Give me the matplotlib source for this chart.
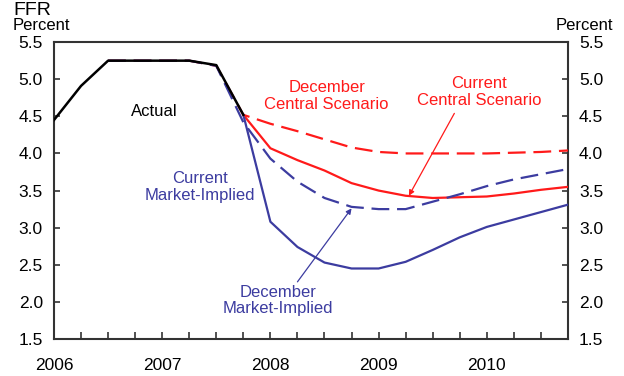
import numpy as np
import matplotlib.pyplot as plt
from matplotlib.ticker import MultipleLocator

plt.rcParams['font.family'] = ['Liberation Sans', 'DejaVu Sans']

# quarterly positions (decimal years)
q_actual = [2006.0, 2006.25, 2006.5, 2006.75, 2007.0, 2007.25, 2007.5, 2007.75]
actual = [4.45, 4.91, 5.25, 5.25, 5.25, 5.25, 5.19, 4.52]

q_current = [2007.75, 2008.0, 2008.25, 2008.5, 2008.75, 2009.0, 2009.25,
             2009.5, 2009.75, 2010.0, 2010.25, 2010.5, 2010.75]
current_central = [4.52, 4.07, 3.91, 3.77, 3.60, 3.50, 3.43, 3.40, 3.41, 3.42, 3.46, 3.51, 3.55]
current_market = [4.52, 3.08, 2.74, 2.53, 2.45, 2.45, 2.54, 2.70, 2.87, 3.01, 3.11, 3.21, 3.31]

q_dec = [2006.5, 2006.75, 2007.0, 2007.25, 2007.5, 2007.75, 2008.0, 2008.25, 2008.5,
         2008.75, 2009.0, 2009.25, 2009.5, 2009.75, 2010.0, 2010.25, 2010.5, 2010.75]
dec_central = [5.25, 5.25, 5.25, 5.25, 5.18, 4.52, 4.40, 4.30, 4.19, 4.08, 4.02,
               4.00, 4.00, 4.00, 4.00, 4.01, 4.02, 4.04]
dec_market = [5.25, 5.25, 5.25, 5.25, 5.18, 4.42, 3.93, 3.62, 3.40, 3.28, 3.25,
              3.25, 3.35, 3.45, 3.56, 3.65, 3.72, 3.79]

years = [2006, 2007, 2008, 2009, 2010]
red = '#ff1a1a'
blue = '#3c3ca0'

fig = plt.figure(figsize=(6.24, 3.76), dpi=100)
ax = fig.add_axes([0.0865, 0.0984, 0.8237, 0.7896])

ax.plot(q_current, current_central, color=red, lw=1.6, zorder=3)
ax.plot(q_current, current_market, color=blue, lw=1.6, zorder=3)
ax.plot(q_dec, dec_central, color=red, lw=1.6, dashes=(8, 3.5), zorder=4)
ax.plot(q_dec, dec_market, color=blue, lw=1.6, dashes=(8, 3.5), zorder=4)
ax.plot(q_actual, actual, color='black', lw=1.8, zorder=5)

ax.set_xlim(2006.0, 2010.75)
ax.set_ylim(1.5, 5.5)
ax.set_xticks(years)
ax.set_xticklabels([str(y) for y in years])
ax.xaxis.set_minor_locator(MultipleLocator(0.25))
ax.yaxis.set_major_locator(MultipleLocator(0.5))
ax.yaxis.set_major_formatter(plt.FormatStrFormatter('%.1f'))
ax.tick_params(axis='y', which='both', direction='in', length=4.5, width=1.2,
               left=True, right=True, labelleft=True, labelright=True,
               labelsize=12.5, pad=8, colors='#333333', labelcolor='black')
ax.tick_params(axis='x', which='both', direction='in', length=5, width=1.2,
               top=False, labelsize=12.5, pad=14, colors='#333333', labelcolor='black')
for s in ax.spines.values():
    s.set_linewidth(1.5)
    s.set_color('#333333')

fs = 12
ax.text(2006.93, 4.57, 'Actual', ha='center', va='center', fontsize=fs, color='black')
ax.text(2008.52, 4.77, 'December\nCentral Scenario', ha='center', va='center',
        fontsize=fs, color=red, linespacing=1.15)
ax.text(2009.93, 4.83, 'Current\nCentral Scenario', ha='center', va='center',
        fontsize=fs, color=red, linespacing=1.15)
ax.text(2007.35, 3.55, 'Current\nMarket-Implied', ha='center', va='center',
        fontsize=fs, color=blue, linespacing=1.15)
ax.text(2008.07, 2.02, 'December\nMarket-Implied', ha='center', va='center',
        fontsize=fs, color=blue, linespacing=1.15)

ax.annotate('', xy=(2009.28, 3.43), xytext=(2009.70, 4.54),
            arrowprops=dict(arrowstyle='-|>', color=red, lw=0.9, mutation_scale=8,
                            shrinkA=0, shrinkB=0))
ax.annotate('', xy=(2008.75, 3.26), xytext=(2008.25, 2.27),
            arrowprops=dict(arrowstyle='-|>', color=blue, lw=0.9, mutation_scale=8,
                            shrinkA=0, shrinkB=0))

fig.text(13 / 624, 1 - 15 / 376, 'FFR', fontsize=14, ha='left', va='baseline')
fig.text(13 / 624, 1 - 30 / 376, 'Percent', fontsize=12, ha='left', va='baseline')
fig.text(613 / 624, 1 - 30 / 376, 'Percent', fontsize=12, ha='right', va='baseline')

fig.savefig('out.png', dpi=100)
